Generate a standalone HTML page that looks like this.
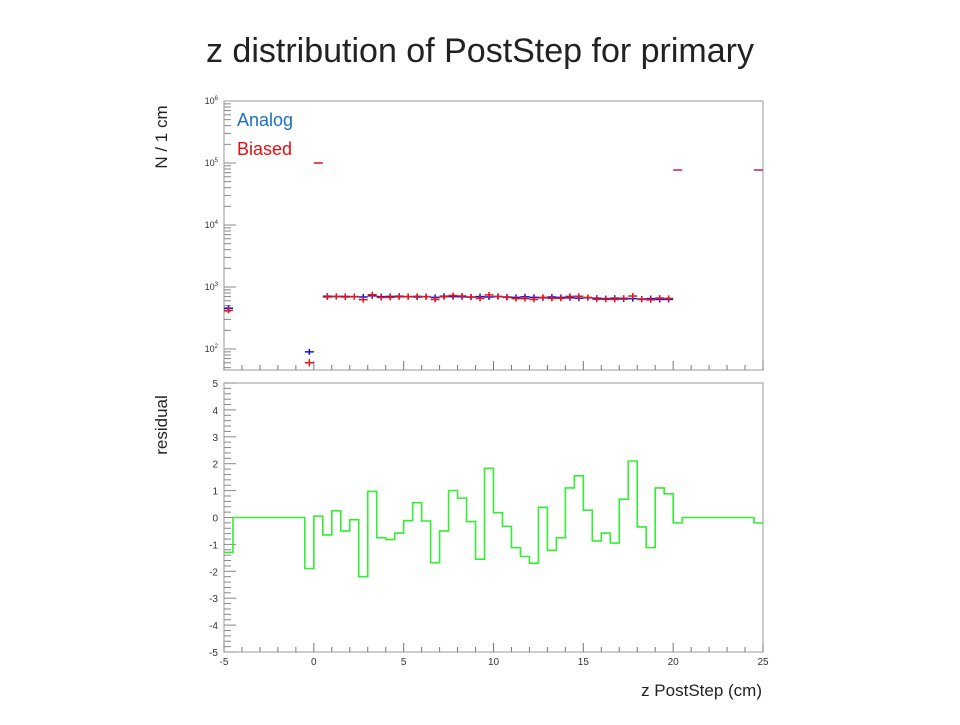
<!DOCTYPE html>
<html><head><meta charset="utf-8"><style>
body{margin:0;background:#fff;width:960px;height:720px;overflow:hidden;font-family:"Liberation Sans",sans-serif}
</style></head><body>
<svg id="c" width="960" height="720" xmlns="http://www.w3.org/2000/svg">
<text x="480" y="62" text-anchor="middle" font-size="34" fill="#222">z distribution of PostStep for primary</text>
<text transform="translate(167,137) rotate(-90)" text-anchor="middle" font-size="17" fill="#222">N / 1 cm</text>
<text transform="translate(167,425) rotate(-90)" text-anchor="middle" font-size="17" fill="#222">residual</text>
<text x="762" y="696" text-anchor="end" font-size="17" fill="#222">z PostStep (cm)</text>
<text x="237" y="126" font-size="18" fill="#1a6fc0">Analog</text>
<text x="237" y="155" font-size="18" fill="#e01010">Biased</text>
<rect x="224" y="101" width="539" height="269" fill="none" stroke="#999"/>
<rect x="224" y="383" width="539" height="269" fill="none" stroke="#999"/>
<g id="g"></g>
</svg>
<script>
const binEdgesStart = [-4.75,-0.25,0.25];
const analogX = [-4.75,-0.25,0.75,1.25,1.75,2.25,2.75,3.25,3.75,4.25,4.75,5.25,5.75,6.25,6.75,7.25,7.75,8.25,8.75,9.25,9.75,10.25,10.75,11.25,11.75,12.25,12.75,13.25,13.75,14.25,14.75,15.25,15.75,16.25,16.75,17.25,17.75,18.25,18.75,19.25,19.75];
const analogVals = [455,90,710,700,705,700,690,720,700,705,710,700,690,700,680,710,700,695,690,700,690,700,690,680,695,680,670,690,680,670,660,670,660,650,660,640,650,640,650,630,630];
const biasedVals = [420,60,690,707,690,697,625,750,677,680,693,697,707,696,630,695,730,717,685,655,745,705,680,650,650,630,680,655,657,705,710,678,635,633,630,660,715,630,620,665,655];
const commonX = [0.25,20.25,24.75];
const commonVals = [100000,77000,77000];
const residuals = [-1.3,0,0,0,0,0,0,0,0,-1.9,0.05,-0.65,0.25,-0.5,-0.08,-2.2,0.97,-0.75,-0.82,-0.58,-0.12,0.55,-0.13,-1.68,-0.5,1.0,0.72,-0.15,-1.55,1.83,0.18,-0.33,-1.12,-1.45,-1.7,0.38,-1.22,-0.75,1.1,1.55,0.27,-0.87,-0.58,-0.95,0.68,2.1,-0.35,-1.12,1.1,0.88,-0.2,0,0,0,0,0,0,0,0,-0.2];
const xTicks = [-5,0,5,10,15,20,25];
const resTicks = [-5,-4,-3,-2,-1,0,1,2,3,4,5];
const logTicks = [2,3,4,5,6];

const NS="http://www.w3.org/2000/svg", g=document.getElementById('g');
const X0=224,X1=763,TT=101,TB=370,BT=383,BB=652;
const sx=v=>X0+(v+5)/30*(X1-X0);
const sy=v=>TT+(6-Math.log10(v))*62;
const sr=v=>BT+(5-v)/10*(BB-BT);
function mk(t,a){const e=document.createElementNS(NS,t);for(const k in a)e.setAttribute(k,a[k]);g.appendChild(e);return e;}
function ln(x1,y1,x2,y2,c,w){return mk('line',{x1,y1,x2,y2,stroke:c,'stroke-width':w||1});}
// x ticks both panels
for(let v=-5;v<=25;v++){const maj=v%5===0;
 let t=ln(sx(v),TB,sx(v),TB-(maj?9:5),'#777');
 t=ln(sx(v),BB,sx(v),BB-(maj?9:5),'#777');}
xTicks.forEach(v=>{const t=mk('text',{x:sx(v),y:665,'text-anchor':'middle','font-size':10,fill:'#333'});t.textContent=v;
 });
// log ticks
logTicks.forEach(p=>{const t=mk('text',{x:218,y:sy(Math.pow(10,p))+3,'text-anchor':'end','font-size':9,fill:'#333'});
 t.innerHTML='10<tspan dy="-4" font-size="6">'+p+'</tspan>';
 });
for(let p=1;p<6;p++)for(let m=1;m<10;m++){const v=m*Math.pow(10,p);const y=sy(v);if(y<TT||y>TB)continue;
 const l=ln(X0,y,X0+(m===1?12:7),y,'#888');}
// residual ticks
resTicks.forEach(v=>{const t=mk('text',{x:218,y:sr(v)+4,'text-anchor':'end','font-size':10,fill:'#333'});t.textContent=v;
 });
for(let v=-5;v<=5.001;v+=0.2){const maj=Math.abs(v-Math.round(v))<0.01;
 const l=ln(X0,sr(v),X0+(maj?12:7),sr(v),'#888');}
// markers
function marker(x,v,c,nm){const y=sy(v);const e=mk('g',{});
 
 
 const a=document.createElementNS(NS,'line');a.setAttribute('x1',sx(x-0.25));a.setAttribute('x2',sx(x+0.25));a.setAttribute('y1',y);a.setAttribute('y2',y);a.setAttribute('stroke',c);a.setAttribute('stroke-width',1.5);e.appendChild(a);
 const h=Math.min(5,Math.max(3,sy(v-Math.sqrt(v)*1)-y));
 const b=document.createElementNS(NS,'line');b.setAttribute('x1',sx(x));b.setAttribute('x2',sx(x));b.setAttribute('y1',y-h);b.setAttribute('y2',y+h);b.setAttribute('stroke',c);b.setAttribute('stroke-width',1.5);e.appendChild(b);}
analogX.forEach((x,i)=>marker(x,analogVals[i],'#1010e0','analog-point'));
analogX.forEach((x,i)=>marker(x,biasedVals[i],'#e81515','biased-point'));
commonX.forEach((x,i)=>{const y=sy(commonVals[i]);const l=ln(sx(x-0.25),y,sx(x+0.25),y,i===0?'#e01010':'#c02050',1.5);
 });
// residual step
let d='';residuals.forEach((r,i)=>{const xa=sx(-5+i*0.5),xb=sx(-5+(i+1)*0.5),y=sr(r);d+=(i?'L':'M')+xa+','+y+'L'+xb+','+y;});
const p=mk('path',{d,fill:'none',stroke:'#33ee33','stroke-width':1.6});


</script>
</body></html>
